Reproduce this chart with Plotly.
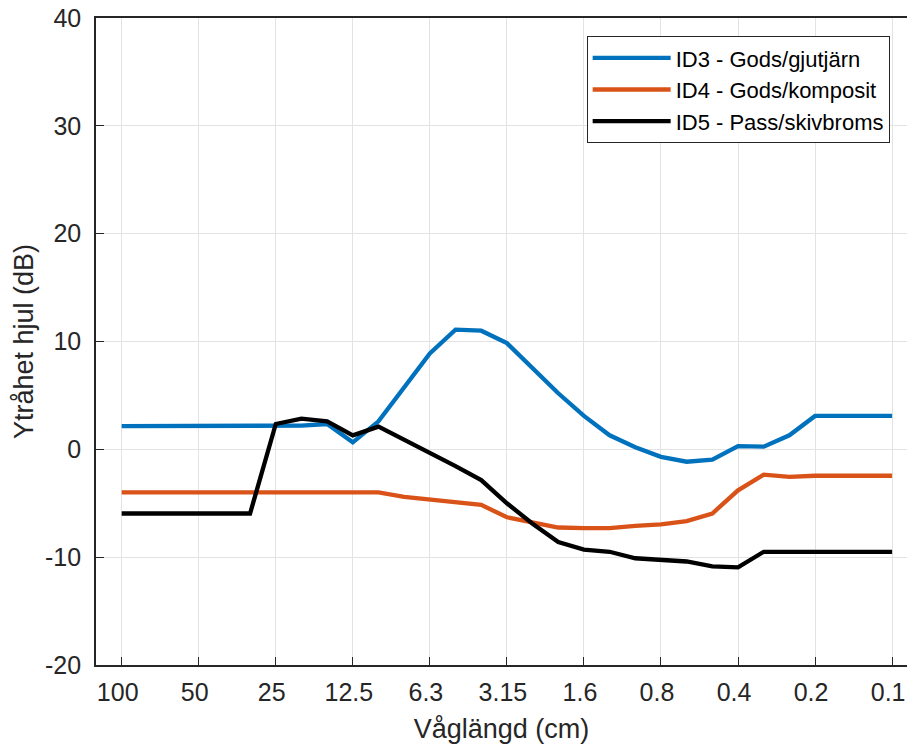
import plotly.graph_objects as go

bands = ["100", "80", "63", "50", "40", "31.5", "25", "20", "16", "12.5", "10", "8",
         "6.3", "5", "4", "3.15", "2.5", "2", "1.6", "1.25", "1", "0.8", "0.63", "0.5",
         "0.4", "0.315", "0.25", "0.2", "0.16", "0.125", "0.1"]
tick_labels = ["100", "50", "25", "12.5", "6.3", "3.15", "1.6", "0.8", "0.4", "0.2", "0.1"]
y_ticks = [-20, -10, 0, 10, 20, 30, 40]
y_tick_text = ["-20", "-10", "0", "10", "20", "30", "40"]

id3 = [2.15, 2.15, 2.15, 2.15, 2.15, 2.15, 2.15, 2.2, 2.35, 0.65, 2.6, 5.8, 8.9, 11.1,
       11.0, 9.85, 7.5, 5.2, 3.1, 1.3, 0.2, -0.7, -1.15, -0.95, 0.3, 0.25, 1.3, 3.1,
       3.1, 3.1, 3.1]
id4 = [-4.0, -4.0, -4.0, -4.0, -4.0, -4.0, -4.0, -4.0, -4.0, -4.0, -4.0, -4.4, -4.65,
       -4.9, -5.15, -6.3, -6.8, -7.25, -7.3, -7.3, -7.1, -6.95, -6.65, -5.95, -3.8,
       -2.35, -2.55, -2.45, -2.45, -2.45, -2.45]
id5 = [-5.95, -5.95, -5.95, -5.95, -5.95, -5.95, 2.35, 2.85, 2.6, 1.3, 2.1, 0.9, -0.25,
       -1.55, -2.85, -5.0, -6.9, -8.6, -9.3, -9.5, -10.1, -10.3, -10.4, -10.85, -10.95,
       -9.5, -9.5, -9.5, -9.5, -9.5, -9.5]

series = [
    ("ID3 - Gods/gjutjärn", id3, "#0072BD"),
    ("ID4 - Gods/komposit", id4, "#D95319"),
    ("ID5 - Pass/skivbroms", id5, "#000000"),
]

FONT = "Liberation Sans, Arial, sans-serif"
TXT = "#262626"

fig = go.Figure()
for name, vals, col in series:
    fig.add_trace(go.Scatter(x=bands, y=vals, mode="lines", name=name,
                             line=dict(color=col, width=4.3)))

fig.update_layout(
    width=907, height=747,
    margin=dict(l=96, r=0, t=18, b=82),
    paper_bgcolor="white", plot_bgcolor="white",
    font=dict(family=FONT, size=25, color=TXT),
    showlegend=True,
    legend=dict(x=0.605, y=0.972, xanchor="left", yanchor="top",
                bgcolor="white", bordercolor=TXT, borderwidth=1,
                font=dict(family=FONT, size=22, color="#000000"),
                itemwidth=78, tracegroupgap=0),
)
fig.update_xaxes(
    type="category", range=[-1, 30.58],
    tickmode="array", tickvals=tick_labels, ticktext=tick_labels,
    showgrid=True, gridcolor="#e3e3e3", gridwidth=1,
    showline=True, linecolor=TXT, linewidth=1.6, mirror=True,
    ticks="inside", ticklen=8, tickcolor=TXT, tickwidth=1.2,
    tickfont=dict(size=25, color=TXT), ticklabelshift=-4, ticklabelstandoff=4,
    title=dict(text="Våglängd (cm)", font=dict(size=27, color=TXT), standoff=14),
    zeroline=False,
)
fig.update_yaxes(
    range=[-20, 40], tickmode="array", tickvals=y_ticks, ticktext=y_tick_text,
    showgrid=True, gridcolor="#e3e3e3", gridwidth=1,
    showline=True, linecolor=TXT, linewidth=1.6, mirror=False,
    ticks="inside", ticklen=8, tickcolor=TXT, tickwidth=1.2,
    tickfont=dict(size=25, color=TXT), ticklabelstandoff=8,
    title=dict(text="Ytråhet hjul (dB)", font=dict(size=27, color=TXT), standoff=4),
    zeroline=False,
)

fig.write_html("out.html")
